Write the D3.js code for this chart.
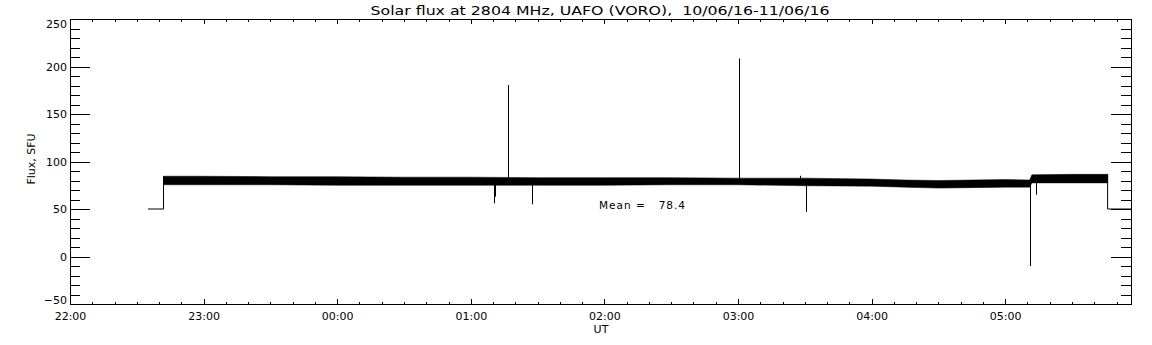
<!DOCTYPE html>
<html>
<head>
<meta charset="utf-8">
<script src="https://cdn.jsdelivr.net/npm/d3@7"></script>
<style>
  body { margin: 0; background: #fff; }
  text { font-family: "DejaVu Sans", sans-serif; fill: #000; }
</style>
</head>
<body>
<svg id="graf" width="1152" height="345"></svg>
<script>
// data (UT, flux in SFU)
var bandTimes = ["22:42","23:00","23:30","00:00","00:30","01:00","01:30","02:00","02:30","03:00","03:30","04:00","04:15","04:30","04:45","05:00","05:11","05:12","05:30","05:46"]
var bandUpper = [84.5,84.5,84,84,83.5,83.5,83,83,83,82.5,82.5,81.5,80.5,80,80.5,81,80.5,86,86.5,86.5]
var bandLower = [75.5,75.5,75.5,75,75,75,75,75,75.5,75.5,74.5,74,73,72,72.5,73,73,77.5,77.5,77.5]

var offTimes = ["22:35","22:42","05:46","05:56:30"]
var offLevel = 50

var spikeTimes = ["01:10:20","01:10:40","01:16:30","01:27:30","03:00:20","03:28:00","03:30:40","05:11:00","05:13:40"]
var spikeBase = [77,77,80,77,80,80,77,76,80]
var spikeValues = [56,63,180.5,55,208.5,85,47,-10,65]

var yTicks = [-50,0,50,100,150,200,250]
var meanValue = 78.4
var titel = "Solar flux at 2804 MHz, UAFO (VORO),  10/06/16-11/06/16"

// cas -> datum
function cas(s) {
  var p = s.split(":").map(Number)
  var d = (p[0] >= 12) ? 10 : 11
  return new Date(Date.UTC(2016, 5, d, p[0], p[1], p[2] || 0))
}

var L = 70, R = 1131, T = 19, B = 304
var svg = d3.select("#graf")

var x = d3.scaleUtc().domain([cas("22:00"), cas("05:56:30")]).range([L, R])
var y = d3.scaleLinear().domain([-50, 250]).range([B, T])

// pas mezi obalkami
var pas = bandTimes.map(function(t, i){ return {t: cas(t), hi: bandUpper[i], lo: bandLower[i]} })
svg.append("path")
  .datum(pas)
  .attr("d", d3.area().x(function(d){ return x(d.t) }).y0(function(d){ return y(d.lo) }).y1(function(d){ return y(d.hi) }))
  .attr("fill", "#000")
  .attr("stroke", "#000")
  .attr("stroke-width", 0.5)

// vypnuto pred a po
var car = d3.line().x(function(d){ return x(d[0]) }).y(function(d){ return y(d[1]) })
svg.append("path")
  .attr("d", car([[cas(offTimes[0]), offLevel], [cas(offTimes[1]), offLevel], [cas(offTimes[1]), bandUpper[0]]]))
  .attr("fill", "none").attr("stroke", "#000").attr("stroke-width", 1)
svg.append("path")
  .attr("d", car([[cas(offTimes[2]), bandUpper[bandUpper.length-1]], [cas(offTimes[2]), offLevel], [cas(offTimes[3]), offLevel]]))
  .attr("fill", "none").attr("stroke", "#000").attr("stroke-width", 1)

// spicky
svg.selectAll("line.spike").data(spikeTimes).enter().append("line")
  .attr("class", "spike")
  .attr("x1", function(d){ return Math.round(x(cas(d))) + 0.5 })
  .attr("x2", function(d){ return Math.round(x(cas(d))) + 0.5 })
  .attr("y1", function(d,i){ return y(spikeBase[i]) })
  .attr("y2", function(d,i){ return y(spikeValues[i]) })
  .attr("stroke", "#000").attr("stroke-width", 1)

// osy
var minorX = d3.utcMinute.every(10).range(cas("22:00"), cas("05:56:30"))
var minorY = d3.range(-50, 251, 10)

function osa(g) { g.select(".domain").remove(); g.selectAll("line").attr("stroke", "#000").attr("shape-rendering", "crispEdges") }

svg.append("g").attr("transform", "translate(0," + B + ")")
  .call(d3.axisBottom(x).tickValues(minorX).tickFormat("").tickSizeInner(-2.5).tickSizeOuter(0)).call(osa)
svg.append("g").attr("transform", "translate(0," + B + ")")
  .call(d3.axisBottom(x).ticks(d3.utcHour.every(1)).tickFormat(d3.utcFormat("%H:%M")).tickSizeInner(-5).tickSizeOuter(0).tickPadding(8))
  .call(osa)
  .call(function(g){ g.selectAll("text").attr("font-size", 11).attr("font-family", null) })
svg.append("g").attr("transform", "translate(0," + T + ")")
  .call(d3.axisTop(x).tickValues(minorX).tickFormat("").tickSizeInner(-2.5).tickSizeOuter(0)).call(osa)
svg.append("g").attr("transform", "translate(0," + T + ")")
  .call(d3.axisTop(x).ticks(d3.utcHour.every(1)).tickFormat("").tickSizeInner(-5).tickSizeOuter(0)).call(osa)

svg.append("g").attr("transform", "translate(" + L + ",0)")
  .call(d3.axisLeft(y).tickValues(minorY).tickFormat("").tickSizeInner(-10).tickSizeOuter(0)).call(osa)
svg.append("g").attr("transform", "translate(" + L + ",0)")
  .call(d3.axisLeft(y).tickValues(yTicks).tickFormat(function(d){ return d < 0 ? "\u2212" + Math.abs(d) : d }).tickSizeInner(-20).tickSizeOuter(0).tickPadding(3))
  .call(osa)
  .call(function(g){
    g.selectAll("text").attr("font-size", 11).attr("font-family", null)
      .attr("dy", function(d){ return d == 250 ? "0.75em" : (d == -50 ? "-0.05em" : "0.32em") })
  })
svg.append("g").attr("transform", "translate(" + R + ",0)")
  .call(d3.axisRight(y).tickValues(minorY).tickFormat("").tickSizeInner(-10).tickSizeOuter(0)).call(osa)
svg.append("g").attr("transform", "translate(" + R + ",0)")
  .call(d3.axisRight(y).tickValues(yTicks).tickFormat("").tickSizeInner(-20).tickSizeOuter(0)).call(osa)

// ramecek
svg.append("rect").attr("x", L).attr("y", T).attr("width", R - L).attr("height", B - T)
  .attr("fill", "none").attr("stroke", "#000").attr("stroke-width", 1).attr("shape-rendering", "crispEdges")

// popisky
svg.append("text").attr("x", 600).attr("y", 15).attr("text-anchor", "middle")
  .attr("font-size", 12.5).attr("textLength", 459).attr("lengthAdjust", "spacingAndGlyphs")
  .style("white-space", "pre").text(titel)
svg.append("text").attr("x", 601).attr("y", 333).attr("text-anchor", "middle").attr("font-size", 11).text("UT")
svg.append("text").attr("transform", "translate(35,159) rotate(-90)").attr("text-anchor", "middle")
  .attr("font-size", 11).text("Flux, SFU")
svg.append("text").attr("x", 599).attr("y", 209).attr("font-size", 10.5)
  .attr("textLength", 86).attr("lengthAdjust", "spacing")
  .style("white-space", "pre").text("Mean =   " + meanValue)
</script>
</body>
</html>
